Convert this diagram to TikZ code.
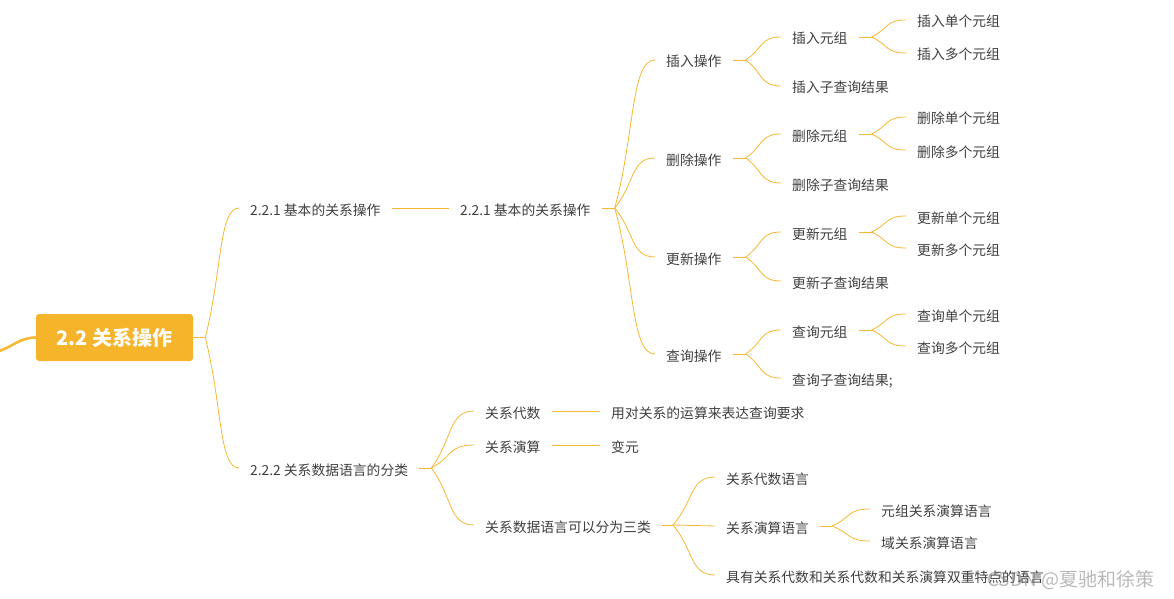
\documentclass[tikz,border=0pt]{standalone}
\usepackage{fontspec}
\newfontfamily\cjk{Noto Sans CJK SC}
\usetikzlibrary{calc}
\definecolor{mmorange}{HTML}{F6B42A}
\definecolor{mmline}{HTML}{F7B733}
\definecolor{mmtext}{HTML}{3F3F3F}
\tikzset{
  topic/.style={anchor=west, inner xsep=11pt, inner ysep=0pt, text height=14pt, text depth=0pt,
    font=\cjk\fontsize{13.8}{14}\selectfont, text=mmtext},
  rootbox/.style={fill=mmorange, rounded corners=3pt, minimum width=157pt, minimum height=47pt,
    inner sep=0pt, font=\cjk\bfseries\fontsize{20}{22}\selectfont, text=white},
  link/.style={draw=mmline, line width=0.8pt},
  branch/.style={to path={.. controls ($(\tikztostart)!0.5!(\tikztotarget)$) and ($(\tikztotarget)!0.6!(\tikztostart |- \tikztotarget)$) .. (\tikztotarget)}}
}

\begin{document}
\begin{tikzpicture}[x=1pt,y=-1pt]
\useasboundingbox (0,0) rectangle (1174,599);

\node[rootbox] (root) at (114.5,337.5) {2.2 关系操作};
\coordinate (in) at (-4,352);

\node[topic] (b1) at (239,208) {2.2.1 基本的关系操作};
\node[topic] (b1x) at (449,208) {2.2.1 基本的关系操作};
\node[topic] (b2) at (239,468) {2.2.2 关系数据语言的分类};

\node[topic] (ins) at (655,60) {插入操作};
\node[topic] (del) at (655,158) {删除操作};
\node[topic] (upd) at (655,257) {更新操作};
\node[topic] (qry) at (655,354) {查询操作};

\node[topic] (insT) at (781,37) {插入元组};
\node[topic] (insS) at (781,86) {插入子查询结果};
\node[topic] (delT) at (781,134) {删除元组};
\node[topic] (delS) at (781,183) {删除子查询结果};
\node[topic] (updT) at (781,232) {更新元组};
\node[topic] (updS) at (781,281) {更新子查询结果};
\node[topic] (qryT) at (781,330) {查询元组};
\node[topic] (qryS) at (781,378) {查询子查询结果;};

\node[topic] (insT1) at (906,20) {插入单个元组};
\node[topic] (insT2) at (906,53) {插入多个元组};
\node[topic] (delT1) at (906,117) {删除单个元组};
\node[topic] (delT2) at (906,150) {删除多个元组};
\node[topic] (updT1) at (906,216) {更新单个元组};
\node[topic] (updT2) at (906,248) {更新多个元组};
\node[topic] (qryT1) at (906,314) {查询单个元组};
\node[topic] (qryT2) at (906,346) {查询多个元组};

\node[topic] (alg) at (474,411) {关系代数};
\node[topic] (cal) at (474,445) {关系演算};
\node[topic] (three) at (474,525) {关系数据语言可以分为三类};
\node[topic] (algD) at (600,411) {用对关系的运算来表达查询要求};
\node[topic] (calD) at (600,445) {变元};

\node[topic] (lAlg) at (715,477) {关系代数语言};
\node[topic] (lCal) at (715,526) {关系演算语言};
\node[topic] (lBoth) at (715,575) {具有关系代数和关系代数和关系演算双重特点的语言};
\node[topic] (lTup) at (870,509) {元组关系演算语言};
\node[topic] (lDom) at (870,541) {域关系演算语言};

\node[font=\cjk\fontsize{19}{21}\selectfont, text=gray, opacity=0.55, anchor=west, inner sep=0pt] (mark) at (987,580) {CSDN @夏驰和徐策};

\coordinate (root-f) at ([xshift=12pt]root.east);
\coordinate (b1x-f) at ([xshift=13pt]b1x.east);
\coordinate (b2-f) at ([xshift=12pt]b2.east);
\coordinate (ins-f) at ([xshift=13pt]ins.east);
\coordinate (del-f) at ([xshift=13pt]del.east);
\coordinate (upd-f) at ([xshift=13pt]upd.east);
\coordinate (qry-f) at ([xshift=13pt]qry.east);
\coordinate (insT-f) at ([xshift=13pt]insT.east);
\coordinate (delT-f) at ([xshift=13pt]delT.east);
\coordinate (updT-f) at ([xshift=13pt]updT.east);
\coordinate (qryT-f) at ([xshift=13pt]qryT.east);
\coordinate (three-f) at ([xshift=11pt]three.east);
\coordinate (lCal-f) at ([xshift=12pt]lCal.east);

\draw[link, line width=2.6pt] (in) to[out=15, in=180] (root.west);

\draw[link] (root.east) -- (root-f);
\draw[link] (root-f) to[branch] (b1.west);
\draw[link] (root-f) to[branch] (b2.west);
\draw[link] (b1.east) -- (b1x.west);

\draw[link] (b1x.east) -- (b1x-f);
\draw[link] (b1x-f) to[branch] (ins.west);
\draw[link] (b1x-f) to[branch] (del.west);
\draw[link] (b1x-f) to[branch] (upd.west);
\draw[link] (b1x-f) to[branch] (qry.west);

\draw[link] (ins.east) -- (ins-f);
\draw[link] (ins-f) to[branch] (insT.west);
\draw[link] (ins-f) to[branch] (insS.west);
\draw[link] (del.east) -- (del-f);
\draw[link] (del-f) to[branch] (delT.west);
\draw[link] (del-f) to[branch] (delS.west);
\draw[link] (upd.east) -- (upd-f);
\draw[link] (upd-f) to[branch] (updT.west);
\draw[link] (upd-f) to[branch] (updS.west);
\draw[link] (qry.east) -- (qry-f);
\draw[link] (qry-f) to[branch] (qryT.west);
\draw[link] (qry-f) to[branch] (qryS.west);

\draw[link] (insT.east) -- (insT-f);
\draw[link] (insT-f) to[branch] (insT1.west);
\draw[link] (insT-f) to[branch] (insT2.west);
\draw[link] (delT.east) -- (delT-f);
\draw[link] (delT-f) to[branch] (delT1.west);
\draw[link] (delT-f) to[branch] (delT2.west);
\draw[link] (updT.east) -- (updT-f);
\draw[link] (updT-f) to[branch] (updT1.west);
\draw[link] (updT-f) to[branch] (updT2.west);
\draw[link] (qryT.east) -- (qryT-f);
\draw[link] (qryT-f) to[branch] (qryT1.west);
\draw[link] (qryT-f) to[branch] (qryT2.west);

\draw[link] (b2.east) -- (b2-f);
\draw[link] (b2-f) to[branch] (alg.west);
\draw[link] (b2-f) to[branch] (cal.west);
\draw[link] (b2-f) to[branch] (three.west);
\draw[link] (alg.east) -- (algD.west);
\draw[link] (cal.east) -- (calD.west);

\draw[link] (three.east) -- (three-f);
\draw[link] (three-f) to[branch] (lAlg.west);
\draw[link] (three-f) -- (lCal.west);
\draw[link] (three-f) to[branch] (lBoth.west);
\draw[link] (lCal.east) -- (lCal-f);
\draw[link] (lCal-f) to[branch] (lTup.west);
\draw[link] (lCal-f) to[branch] (lDom.west);
\end{tikzpicture}
\end{document}
